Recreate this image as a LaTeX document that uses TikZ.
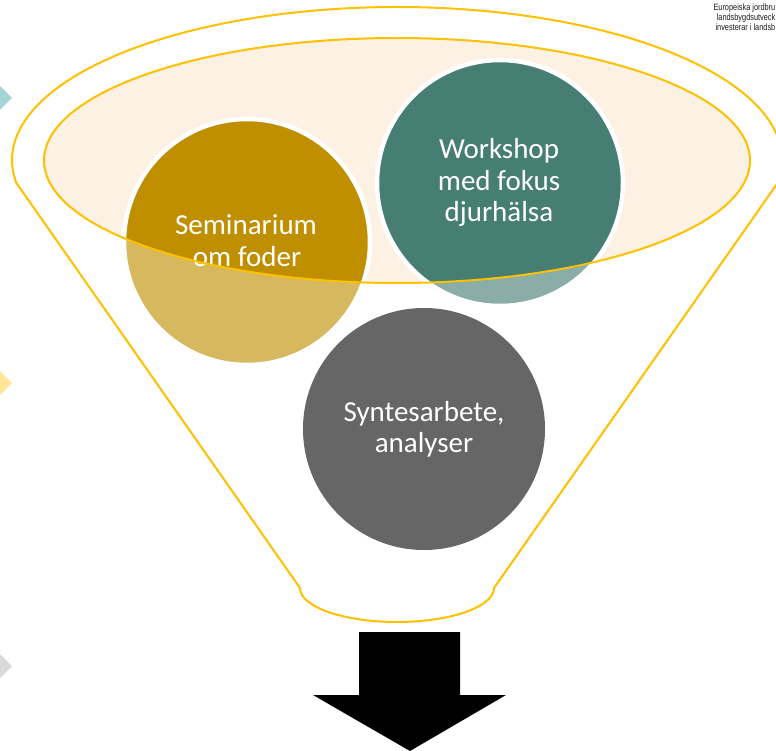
\documentclass[tikz,border=0pt]{standalone}
\usepackage{fontspec}
\setmainfont{Carlito}
\newfontfamily\eufont[FakeStretch=0.8]{Liberation Sans}
\definecolor{goldc}{HTML}{BF8F00}
\definecolor{tealc}{HTML}{467E74}
\definecolor{grayc}{HTML}{666666}
\definecolor{funnelc}{HTML}{FFC000}
\definecolor{peachc}{HTML}{FDF1E3}
\definecolor{dteal}{HTML}{A3D6D3}
\definecolor{dyellow}{HTML}{FFE699}
\definecolor{dgray}{HTML}{D9D9D9}
\definecolor{eutext}{HTML}{1A1A1A}
\begin{document}
\begin{tikzpicture}[x=1pt,y=1pt,
  bubble/.style={circle,inner sep=0pt,minimum size=246pt,draw=white,line width=4.5pt},
  lbl/.style={text=white,font=\fontsize{29}{31}\selectfont,inner sep=0pt,anchor=base},
  eulbl/.style={text=eutext,font=\eufont\fontsize{9.2}{10}\selectfont,inner sep=0pt,anchor=base east},
  funnelline/.style={draw=funnelc,line width=2pt}]
\useasboundingbox (0,0) rectangle (776,-751);
\begin{scope}
\clip (0,0) rectangle (776,-751);
% left chevron tips
\fill[dteal] (-20,-66) -- (12,-98) -- (-20,-130) -- cycle;
\fill[dyellow] (-20,-351) -- (12,-383) -- (-20,-415) -- cycle;
\fill[dgray] (-20,-634) -- (12,-666) -- (-20,-698) -- cycle;
% inner ellipse fill
\fill[peachc] (397,-160.5) ellipse[x radius=353, y radius=122.5];
% bubbles
\node[bubble,fill=goldc] (sem) at (247,-242) {};
\node[bubble,fill=tealc] (work) at (500,-183) {};
\node[lbl] (semA) at (246,-235) {Seminarium};
\node[lbl] (semB) at (247,-266) {om foder};
\node[lbl] (workA) at (499,-159) {Workshop};
\node[lbl] (workB) at (499,-191) {med fokus};
\node[lbl] (workC) at (499,-222) {djurhälsa};
% translucent funnel body
\fill[white,fill opacity=0.37,even odd rule]
  (16.4,-183) -- (300,-588) arc[start angle=180,end angle=360,x radius=97,y radius=34]
  -- (777.6,-183) arc[start angle=-8.65,end angle=188.65,x radius=385,y radius=153] -- cycle
  (397,-160.5) ellipse[x radius=353, y radius=122.5];
% funnel outline
\draw[funnelline]
  (16.4,-183) -- (300,-588) arc[start angle=180,end angle=360,x radius=97,y radius=34]
  -- (777.6,-183) arc[start angle=-8.65,end angle=188.65,x radius=385,y radius=153] -- cycle;
\draw[funnelline] (397,-160.5) ellipse[x radius=353, y radius=122.5];
% synthesis bubble
\node[circle,inner sep=0pt,minimum size=242pt,fill=grayc] (syn) at (424,-429) {};
\node[lbl] (synA) at (424,-421) {Syntesarbete,};
\node[lbl] (synB) at (424,-452) {analyser};
% down arrow
\fill[black] (359,-632) -- (460,-632) -- (460,-695) -- (506,-695) -- (410,-751)
  -- (313,-695) -- (359,-695) -- cycle;
% EU text
\node[eulbl] (euA) at (775.5,-11) {Europeiska jordbru};
\node[eulbl] (euB) at (775.5,-21) {landsbygdsutveck};
\node[eulbl] (euC) at (775.5,-31) {investerar i landsb};
\end{scope}
\end{tikzpicture}
\end{document}
